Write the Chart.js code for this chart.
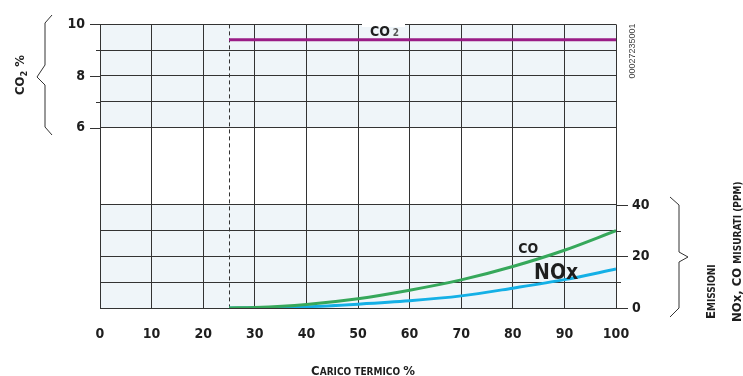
<!DOCTYPE html>
<html>
<head>
<meta charset="utf-8">
<script src="https://cdn.jsdelivr.net/npm/chart.js@4"></script>
<style>
  html, body { margin: 0; padding: 0; background: #ffffff; }
  #wrap { width: 743px; height: 376px; }
</style>
</head>
<body>
<div id="wrap"><canvas id="c" width="743" height="376"></canvas></div>
<script>
// Heat load (%) at which the emission curves are sampled
const loadPct = [25, 30, 40, 50, 60, 70, 80, 90, 100];
// Measured CO and NOx emissions (ppm)
const coPpm  = [0, 0.2, 1.4, 3.6, 6.9, 10.9, 16.1, 22.4, 30];
const noxPpm = [0, 0.1, 0.5, 1.5, 2.8, 4.7, 7.7, 11, 15.1];
// CO2 content (%) over the modulation range
const co2Load = [25, 100];
const co2Pct  = [9.4, 9.4];
// Minimum load of the modulation range
const minLoad = 25;
// Axis tick labels
const xTicks   = [0, 10, 20, 30, 40, 50, 60, 70, 80, 90, 100];
const pctTicks = [6, 8, 10];
const ppmTicks = [0, 20, 40];

const FONT = "'Liberation Sans Narrow', 'DejaVu Sans Condensed', 'Roboto Condensed', 'Liberation Sans', sans-serif";
const GRID = '#333333';
const BAND = '#eff5f9';

Chart.defaults.font.family = FONT;

const pts = (xs, ys) => xs.map((x, i) => ({ x: x, y: ys[i] }));

// Draws a run of text where each part has its own size (small caps style)
function drawParts(ctx, parts, x, y, align) {
  let total = 0;
  parts.forEach(p => { ctx.font = 'bold ' + p[1] + 'px ' + FONT; total += ctx.measureText(p[0]).width; });
  let cx = align === 'center' ? x - total / 2 : x;
  ctx.textAlign = 'left';
  ctx.textBaseline = 'alphabetic';
  parts.forEach(p => {
    ctx.font = 'bold ' + p[1] + 'px ' + FONT;
    ctx.fillStyle = p[2] || '#1e1e1e';
    ctx.fillText(p[0], cx, y + (p[3] || 0));
    cx += ctx.measureText(p[0]).width;
  });
}

function brace(ctx, path) {
  ctx.save();
  ctx.strokeStyle = '#333';
  ctx.lineWidth = 1;
  ctx.beginPath();
  path.forEach((p, i) => i ? ctx.lineTo(p[0], p[1]) : ctx.moveTo(p[0], p[1]));
  ctx.stroke();
  ctx.restore();
}

const decorations = {
  id: 'decorations',
  beforeDraw(chart) {
    const { ctx, chartArea: a, scales } = chart;
    ctx.save();
    ctx.fillStyle = '#ffffff';
    ctx.fillRect(0, 0, chart.width, chart.height);
    ctx.fillStyle = BAND;
    const yp = scales.yPct, yq = scales.yPpm;
    ctx.fillRect(a.left, yp.getPixelForValue(10), a.right - a.left, yp.getPixelForValue(6) - yp.getPixelForValue(10));
    ctx.fillRect(a.left, yq.getPixelForValue(40), a.right - a.left, yq.getPixelForValue(0) - yq.getPixelForValue(40));
    ctx.restore();
  },
  beforeDatasetsDraw(chart) {
    const { ctx, chartArea: a, scales } = chart;
    ctx.save();
    ctx.strokeStyle = GRID;
    ctx.lineWidth = 1;
    // tick marks outside the plot
    [10, 9, 8, 7, 6].forEach(v => {
      const y = Math.round(scales.yPct.getPixelForValue(v)) + 0.5;
      const len = v % 2 === 0 ? 10 : 4;
      ctx.beginPath(); ctx.moveTo(a.left - len, y); ctx.lineTo(a.left, y); ctx.stroke();
    });
    [0, 10, 20, 30, 40].forEach(v => {
      const y = Math.round(scales.yPpm.getPixelForValue(v)) + 0.5;
      const len = v % 20 === 0 ? 12 : 5;
      ctx.beginPath(); ctx.moveTo(a.right, y); ctx.lineTo(a.right + len, y); ctx.stroke();
    });
    // minimum load marker
    const xd = Math.round(scales.x.getPixelForValue(minLoad)) + 0.5;
    ctx.setLineDash([4, 3]);
    ctx.strokeStyle = '#333';
    ctx.beginPath(); ctx.moveTo(xd, a.top); ctx.lineTo(xd, a.bottom); ctx.stroke();
    ctx.restore();
  },
  afterDraw(chart) {
    const { ctx, scales } = chart;
    ctx.save();
    // CO2 curve label
    ctx.fillStyle = '#ffffff';
    ctx.fillRect(362, 18, 43, 9);
    drawParts(ctx, [['CO', 14], [' ', 9], ['2', 10, '#555', 0]], 370, 36, 'left');

    // CO and NOx curve labels
    drawParts(ctx, [['CO', 14]], scales.x.getPixelForValue(83), scales.yPpm.getPixelForValue(21.4), 'center');
    drawParts(ctx, [['NOx', 21]], scales.x.getPixelForValue(88.4), scales.yPpm.getPixelForValue(11.2), 'center');

    // drawing number
    ctx.save();
    ctx.translate(633, 51);
    ctx.rotate(-Math.PI / 2);
    ctx.font = "9px 'Liberation Sans', sans-serif";
    ctx.fillStyle = '#444';
    ctx.textAlign = 'center';
    ctx.textBaseline = 'middle';
    ctx.fillText('00027235001', 0, 0);
    ctx.restore();

    // left axis title
    ctx.save();
    ctx.translate(24, 75);
    ctx.rotate(-Math.PI / 2);
    drawParts(ctx, [['CO', 13], ['2', 9, '#1e1e1e', 3], [' %', 13]], 0, 0, 'center');
    ctx.restore();

    // right axis title
    ctx.save();
    ctx.translate(715, 319);
    ctx.rotate(-Math.PI / 2);
    drawParts(ctx, [['E', 13], ['MISSIONI', 10]], 0, 0, 'left');
    ctx.restore();
    ctx.save();
    ctx.translate(741, 322);
    ctx.rotate(-Math.PI / 2);
    drawParts(ctx, [['NOx, CO ', 13], ['MISURATI (PPM)', 10]], 0, 0, 'left');
    ctx.restore();

    // x axis title
    drawParts(ctx, [['C', 13], ['ARICO TERMICO ', 10], ['%', 13]], 363, 375, 'center');

    // braces
    brace(ctx, [[52, 15], [45, 23], [45, 65], [37, 77], [45, 85], [45, 127], [52, 135]]);
    brace(ctx, [[670, 197], [679, 205], [679, 252], [688, 257], [679, 262], [679, 308], [670, 317]]);
    ctx.restore();
  }
};

new Chart(document.getElementById('c'), {
  type: 'line',
  data: {
    datasets: [
      { label: 'CO2', data: pts(co2Load, co2Pct), yAxisID: 'yPct', borderColor: '#9a1c86', borderWidth: 3, pointRadius: 0 },
      { label: 'CO', data: pts(loadPct, coPpm), yAxisID: 'yPpm', borderColor: '#36a85b', borderWidth: 3, pointRadius: 0, cubicInterpolationMode: 'monotone' },
      { label: 'NOx', data: pts(loadPct, noxPpm), yAxisID: 'yPpm', borderColor: '#14b0e6', borderWidth: 3, pointRadius: 0, cubicInterpolationMode: 'monotone' }
    ]
  },
  options: {
    responsive: false,
    animation: false,
    events: [],
    layout: { padding: { top: 24, left: 0, right: 0, bottom: 0 } },
    plugins: { legend: { display: false }, tooltip: { enabled: false } },
    scales: {
      x: {
        type: 'linear', min: 0, max: 100,
        afterBuildTicks: s => { s.ticks = xTicks.map(v => ({ value: v })); },
        afterFit: s => { s.height = 68; },
        grid: { color: GRID, lineWidth: 1, drawTicks: false },
        border: { display: false },
        ticks: { color: '#1e1e1e', font: { size: 14, weight: 'bold' }, padding: 18, maxRotation: 0 }
      },
      yPct: {
        type: 'linear', position: 'left', min: -1, max: 10,
        ticks: {
          stepSize: 1, padding: 15, color: '#1e1e1e', font: { size: 14, weight: 'bold' },
          callback: v => pctTicks.includes(v) ? String(v) : ''
        },
        afterFit: s => { s.width = 100; },
        grid: { drawTicks: false, lineWidth: 1, color: c => (c.tick && c.tick.value >= 6) ? GRID : 'rgba(0,0,0,0)' },
        border: { display: false }
      },
      yPpm: {
        type: 'linear', position: 'right', min: 0, max: 110,
        ticks: {
          stepSize: 10, padding: 16, color: '#1e1e1e', font: { size: 14, weight: 'bold' },
          callback: v => ppmTicks.includes(v) ? String(v) : ''
        },
        afterFit: s => { s.width = 127; },
        grid: { drawTicks: false, lineWidth: 1, color: c => (c.tick && c.tick.value <= 40) ? GRID : 'rgba(0,0,0,0)' },
        border: { display: false }
      }
    }
  },
  plugins: [decorations]
});
</script>
</body>
</html>
